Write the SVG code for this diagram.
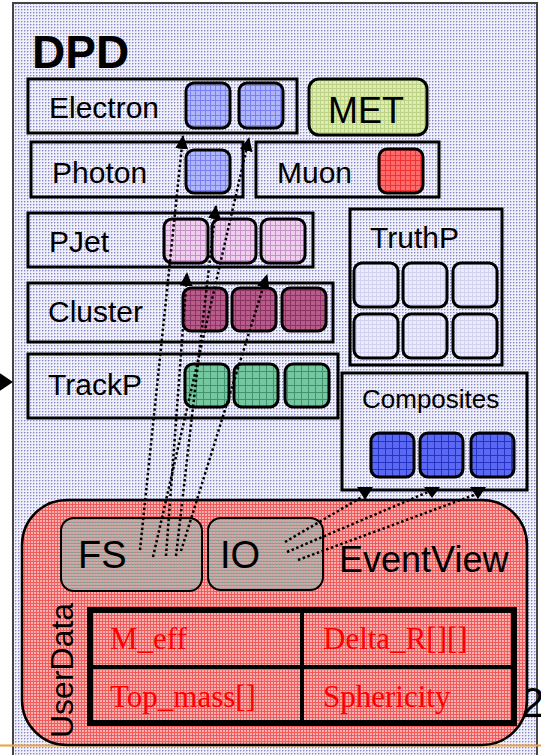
<svg xmlns="http://www.w3.org/2000/svg" width="541" height="755" viewBox="0 0 541 755">
  <style>
    .sans { font-family: "Liberation Sans", Arial, sans-serif; fill: #000; }
    .lbl { font-size: 30px; }
    .box { fill: none; stroke: #000; stroke-width: 3; }
    .cell { stroke: #000; stroke-width: 3; }
    .dots { fill: none; stroke: #000; stroke-width: 2.5; stroke-dasharray: 2.5 2.5; }
    .head { fill: #000; }
    .tt { font-family: "Liberation Serif", "Times New Roman", serif; font-size: 31px; fill: #ff0000; }
  </style>
  <defs>
    <!-- dotted lavender texture of the DPD panel -->
    <pattern id="bg" width="3" height="3" patternUnits="userSpaceOnUse">
      <rect width="3" height="3" fill="#f0f0fa"/>
      <rect width="1" height="1" fill="#8a8ac8"/>
      <rect x="1" width="1" height="1" fill="#c0c0e4"/>
      <rect y="1" width="1" height="1" fill="#c0c0e4"/>
    </pattern>
    <pattern id="pBlue" width="5" height="5" patternUnits="userSpaceOnUse">
      <rect width="5" height="5" fill="#b0b6fa"/>
      <rect width="5" height="1" fill="#7880f2"/>
      <rect width="1" height="5" fill="#7880f2"/>
    </pattern>
    <pattern id="pComp" width="7" height="7" patternUnits="userSpaceOnUse">
      <rect width="7" height="7" fill="#5a68f2"/>
      <rect width="7" height="1" fill="#2434c4"/>
      <rect width="1" height="7" fill="#2434c4"/>
    </pattern>
    <pattern id="pPJet" width="5" height="5" patternUnits="userSpaceOnUse">
      <rect width="5" height="5" fill="#ecd0ec"/>
      <rect width="5" height="1" fill="#c890c8"/>
      <rect width="1" height="5" fill="#c890c8"/>
    </pattern>
    <pattern id="pClus" width="5" height="5" patternUnits="userSpaceOnUse">
      <rect width="5" height="5" fill="#b85c8a"/>
      <rect width="5" height="1" fill="#8c3466"/>
      <rect width="1" height="5" fill="#8c3466"/>
    </pattern>
    <pattern id="pTrk" width="7" height="7" patternUnits="userSpaceOnUse">
      <rect width="7" height="7" fill="#76c6a0"/>
      <rect width="7" height="1" fill="#3f9470"/>
      <rect width="1" height="7" fill="#3f9470"/>
    </pattern>
    <pattern id="pMuon" width="5" height="5" patternUnits="userSpaceOnUse">
      <rect width="5" height="5" fill="#ff6a6a"/>
      <rect width="5" height="1" fill="#f03434"/>
      <rect width="1" height="5" fill="#f03434"/>
    </pattern>
    <pattern id="pMet" width="4" height="4" patternUnits="userSpaceOnUse">
      <rect width="4" height="4" fill="#deecb2"/>
      <rect width="4" height="1" fill="#bcd286"/>
      <rect width="1" height="4" fill="#bcd286"/>
    </pattern>
    <pattern id="pTruth" width="4" height="4" patternUnits="userSpaceOnUse">
      <rect width="4" height="4" fill="#ececfa"/>
      <rect width="4" height="1" fill="#d2d2f0"/>
      <rect width="1" height="4" fill="#d2d2f0"/>
    </pattern>
    <pattern id="pEv" width="3" height="3" patternUnits="userSpaceOnUse">
      <rect width="3" height="3" fill="#f8b0b0"/>
      <rect width="3" height="1" fill="#f05c5c"/>
      <rect width="1" height="3" fill="#f05c5c"/>
    </pattern>
    <pattern id="pFs" width="3" height="3" patternUnits="userSpaceOnUse">
      <rect width="3" height="3" fill="#ccaaa8"/>
      <rect width="3" height="1" fill="#b88c88"/>
      <rect width="1" height="1" fill="#70a096"/>
      <rect x="2" y="2" width="1" height="1" fill="#98b0a8"/>
    </pattern>
    <marker id="arrow" viewBox="0 0 14 13" refX="13" refY="6.5" markerWidth="14" markerHeight="13" markerUnits="userSpaceOnUse" orient="auto">
      <path d="M0,0 L14,6.5 L0,13 Z" fill="#000"/>
    </marker>
  </defs>

  <rect width="541" height="755" fill="#fff"/>

  <!-- DPD panel -->
  <g id="dpd">
    <rect x="13" y="3" width="524" height="770" fill="url(#bg)" stroke="#444" stroke-width="2"/>
    <text class="sans" x="32" y="68" font-size="46" font-weight="bold">DPD</text>
  </g>

  <!-- slide footer pieces -->
  <line x1="0" y1="745.5" x2="541" y2="745.5" stroke="#f0a038" stroke-width="2"/>
  <text class="sans" x="521" y="717" font-size="42">2</text>

  <g id="electron">
    <rect class="box" x="28" y="79" width="269" height="54"/>
    <text class="sans lbl" x="49" y="118">Electron</text>
    <rect class="cell" x="186" y="83" width="44" height="45" rx="8" fill="url(#pBlue)"/>
    <rect class="cell" x="239" y="83" width="44" height="45" rx="8" fill="url(#pBlue)"/>
  </g>

  <g id="met">
    <rect class="cell" x="309" y="79" width="118" height="56" rx="10" fill="url(#pMet)"/>
    <text class="sans" x="366" y="123" font-size="36" text-anchor="middle">MET</text>
  </g>

  <g id="photon">
    <rect class="box" x="31" y="142" width="212" height="55"/>
    <text class="sans lbl" x="52" y="183">Photon</text>
    <rect class="cell" x="186" y="150" width="44" height="43" rx="8" fill="url(#pBlue)"/>
  </g>

  <g id="muon">
    <rect class="box" x="256" y="142" width="183" height="55"/>
    <text class="sans lbl" x="277" y="183">Muon</text>
    <rect class="cell" x="379" y="149" width="44" height="44" rx="8" fill="url(#pMuon)"/>
  </g>

  <g id="pjet">
    <rect class="box" x="28" y="213" width="285" height="54"/>
    <text class="sans lbl" x="49" y="252">PJet</text>
    <rect class="cell" x="164" y="219" width="44" height="44" rx="8" fill="url(#pPJet)"/>
    <rect class="cell" x="212" y="219" width="44" height="44" rx="8" fill="url(#pPJet)"/>
    <rect class="cell" x="261" y="219" width="44" height="44" rx="8" fill="url(#pPJet)"/>
  </g>

  <g id="cluster">
    <rect class="box" x="28" y="283" width="305" height="59"/>
    <text class="sans lbl" x="48" y="322">Cluster</text>
    <rect class="cell" x="183" y="288" width="44" height="43" rx="8" fill="url(#pClus)"/>
    <rect class="cell" x="232" y="288" width="44" height="43" rx="8" fill="url(#pClus)"/>
    <rect class="cell" x="282" y="288" width="44" height="43" rx="8" fill="url(#pClus)"/>
  </g>

  <g id="trackp">
    <rect class="box" x="28" y="354" width="310" height="64"/>
    <text class="sans lbl" x="48" y="395">TrackP</text>
    <rect class="cell" x="185" y="364" width="44" height="43" rx="8" fill="url(#pTrk)"/>
    <rect class="cell" x="234" y="364" width="44" height="43" rx="8" fill="url(#pTrk)"/>
    <rect class="cell" x="285" y="364" width="44" height="43" rx="8" fill="url(#pTrk)"/>
  </g>

  <g id="truthp">
    <rect class="box" x="350" y="209" width="152" height="156"/>
    <text class="sans lbl" x="370" y="248">TruthP</text>
    <rect class="cell" x="354" y="263" width="44" height="44" rx="8" fill="url(#pTruth)"/>
    <rect class="cell" x="403" y="263" width="44" height="44" rx="8" fill="url(#pTruth)"/>
    <rect class="cell" x="453" y="263" width="44" height="44" rx="8" fill="url(#pTruth)"/>
    <rect class="cell" x="354" y="314" width="44" height="44" rx="8" fill="url(#pTruth)"/>
    <rect class="cell" x="403" y="314" width="44" height="44" rx="8" fill="url(#pTruth)"/>
    <rect class="cell" x="453" y="314" width="44" height="44" rx="8" fill="url(#pTruth)"/>
  </g>

  <g id="composites">
    <rect class="box" x="342" y="373" width="185" height="117"/>
    <text class="sans" x="362" y="408" font-size="26">Composites</text>
    <rect class="cell" x="371" y="433" width="43" height="44" rx="8" fill="url(#pComp)"/>
    <rect class="cell" x="420" y="433" width="43" height="44" rx="8" fill="url(#pComp)"/>
    <rect class="cell" x="471" y="433" width="43" height="44" rx="8" fill="url(#pComp)"/>
  </g>

  <g id="eventview">
    <rect x="22" y="500" width="505" height="245" rx="45" fill="url(#pEv)" stroke="#000" stroke-width="2.5"/>
    <text class="sans" x="339" y="572" font-size="36">EventView</text>
    <text class="sans" font-size="32" transform="translate(73,738) rotate(-90)">UserData</text>
  </g>

  <g id="fs">
    <rect x="61" y="518" width="141" height="73" rx="13" fill="url(#pFs)" stroke="#000" stroke-width="2"/>
    <text class="sans" x="78" y="568" font-size="38">FS</text>
  </g>

  <g id="io">
    <rect x="208" y="518" width="115" height="72" rx="13" fill="url(#pFs)" stroke="#000" stroke-width="2"/>
    <text class="sans" x="220" y="568" font-size="38">IO</text>
  </g>

  <g id="userdata">
    <rect x="90" y="610" width="424" height="113" fill="none" stroke="#000" stroke-width="6"/>
    <line x1="90" y1="667" x2="514" y2="667" stroke="#000" stroke-width="4"/>
    <line x1="302" y1="610" x2="302" y2="723" stroke="#000" stroke-width="4"/>
    <text class="tt" x="110" y="649">M_eff</text>
    <text class="tt" x="323" y="649">Delta_R[][]</text>
    <text class="tt" x="110" y="707">Top_mass[]</text>
    <text class="tt" x="323" y="707">Sphericity</text>
  </g>

  <g id="connectors">
    <!-- FS links up to the object collections -->
    <path class="dots" d="M140,550 L183,136" marker-end="url(#arrow)"/>
    <path class="dots" d="M153,557 L249,138" marker-end="url(#arrow)"/>
    <path class="dots" d="M176,556 L216,206" marker-end="url(#arrow)"/>
    <path class="dots" d="M166,556 L187,273" marker-end="url(#arrow)"/>
    <path class="dots" d="M181,551 L267,275" marker-end="url(#arrow)"/>
    <!-- IO links to the composites -->
    <path class="dots" d="M285,542 L362,497"/>
    <path class="dots" d="M287,552 L428,492"/>
    <path class="dots" d="M298,560 L474,495"/>
    <polygon class="head" points="357,487 373,487 365,500"/>
    <polygon class="head" points="424,487 440,487 432,498"/>
    <polygon class="head" points="470,487 486,487 478,499"/>
    <!-- incoming arrow on the left edge -->
    <polygon class="head" points="-2,372 13,382 -2,392"/>
  </g>
</svg>
